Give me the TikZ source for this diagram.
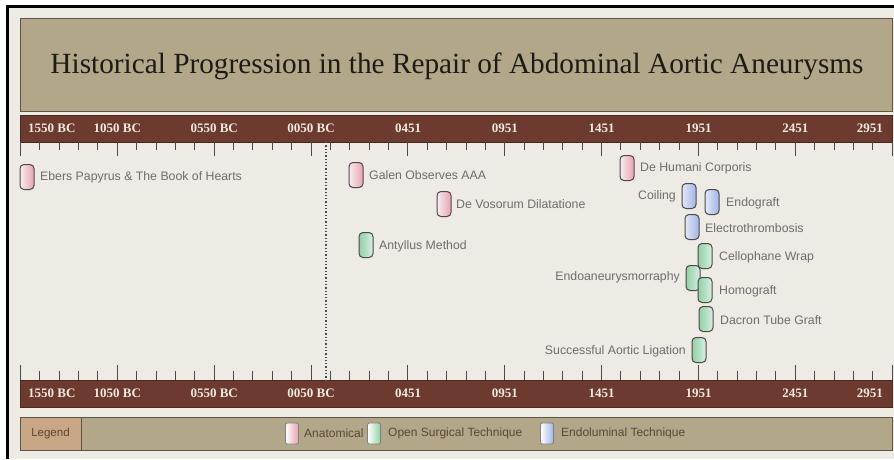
\documentclass[tikz,border=0pt]{standalone}
\usepackage{fontspec}
\usepackage{graphicx}
\newfontfamily\labfont{Liberation Sans}
\newfontfamily\serfont{Liberation Serif}
\definecolor{cream}{HTML}{EEEAE4}
\definecolor{paneltan}{HTML}{B3A78A}
\definecolor{tanedge}{HTML}{5E5546}
\definecolor{barbrown}{HTML}{6C3A2E}
\definecolor{baredge}{HTML}{4A2A20}
\definecolor{barlabel}{HTML}{F3E9DF}
\definecolor{legendtan}{HTML}{C9A686}
\definecolor{labgray}{HTML}{6E6E6E}
\definecolor{legtext}{HTML}{5A4636}
\definecolor{tickgray}{HTML}{4A4A4A}
\definecolor{titlecol}{HTML}{1E1A14}
\definecolor{anat}{HTML}{E6A2B0}
\definecolor{open}{HTML}{92D0A6}
\definecolor{endo}{HTML}{A2B4E6}
\definecolor{markedge}{HTML}{4A4A4A}
\begin{document}
\begin{tikzpicture}[x=1pt,y=-1pt,
  ev/.style={draw=markedge, line width=1pt, rounded corners=4pt, minimum width=14pt, minimum height=25pt, inner sep=0pt},
  anatm/.style={ev, left color=anat!20, right color=anat},
  openm/.style={ev, left color=open, right color=open!35},
  endom/.style={ev, left color=endo!30, right color=endo},
  lgm/.style={draw=markedge!70, line width=0.8pt, rounded corners=2pt, minimum width=13pt, minimum height=21pt, inner sep=0pt},
  lbl/.style={font=\labfont\fontsize{12.3}{14}\selectfont, text=labgray, inner sep=0pt},
  leglbl/.style={font=\labfont\fontsize{12}{14}\selectfont, text=legtext, inner sep=0pt, anchor=west},
  yearlbl/.style={font=\serfont\bfseries\fontsize{13}{15}\selectfont, text=barlabel, inner sep=0pt},
  panel/.style={fill=paneltan, draw=tanedge, line width=1pt},
  bar/.style={fill=barbrown, draw=baredge, line width=0.8pt},
  tickline/.style={draw=tickgray, line width=1pt}
]
\useasboundingbox (0,0) rectangle (894,459);
\fill[white] (0,0) rectangle (894,459);
\fill[cream] (9,8) rectangle (894,459);
\fill[black] (6,5) rectangle (894,8);
\fill[black] (6,5) rectangle (9,459);

% title panel
\draw[panel] (20,18) rectangle (892,111);
\node[text=titlecol, inner sep=0pt] (title) at (457,66)
  {\resizebox{813pt}{!}{\serfont\fontsize{28}{32}\selectfont Historical Progression in the Repair of Abdominal Aortic Aneurysms}};

% axis bars
\draw[bar] (20,115) rectangle (892,142);
\draw[bar] (20,380) rectangle (892,407);

% ticks
\foreach \k in {0,...,45}{
  \pgfmathsetmacro{\tx}{20.5+19.37*\k}
  \pgfmathtruncatemacro{\md}{mod(\k,5)}
  \ifnum\md=0
    \draw[tickline] (\tx,142) -- (\tx,156);
    \draw[tickline] (\tx,380) -- (\tx,365);
  \else
    \draw[tickline] (\tx,142) -- (\tx,150);
    \draw[tickline] (\tx,380) -- (\tx,371);
  \fi
}

% year labels
\foreach \yy/\ylab in {128.5/t,393.5/b}{
  \node[yearlbl, anchor=west] (y0\ylab) at (28,\yy) {1550 BC};
  \node[yearlbl] (y1\ylab) at (117.4,\yy) {1050 BC};
  \node[yearlbl] (y2\ylab) at (214.2,\yy) {0550 BC};
  \node[yearlbl] (y3\ylab) at (311.1,\yy) {0050 BC};
  \node[yearlbl] (y4\ylab) at (408,\yy) {0451};
  \node[yearlbl] (y5\ylab) at (504.8,\yy) {0951};
  \node[yearlbl] (y6\ylab) at (601.7,\yy) {1451};
  \node[yearlbl] (y7\ylab) at (698.5,\yy) {1951};
  \node[yearlbl] (y8\ylab) at (795.4,\yy) {2451};
  \node[yearlbl, anchor=east] (y9\ylab) at (883,\yy) {2951};
}

% dotted year-zero line
\coordinate (z1) at (326,142);
\coordinate (z2) at (326,380);
\draw[tickgray, dotted, line width=1.3pt] (z1) -- (z2);

% events
\node[anatm] (m-ebers) at (27,177) {};
\node[lbl, anchor=west] (t-ebers) at (40,177) {Ebers Papyrus \& The Book of Hearts};
\node[anatm] (m-galen) at (356,175) {};
\node[lbl, anchor=west] (t-galen) at (369,175) {Galen Observes AAA};
\node[anatm] (m-vos) at (444,204) {};
\node[lbl, anchor=west] (t-vos) at (456,204) {De Vosorum Dilatatione};
\node[openm] (m-ant) at (366,245) {};
\node[lbl, anchor=west] (t-ant) at (379,246) {Antyllus Method};
\node[anatm] (m-hum) at (627,168) {};
\node[lbl, anchor=west] (t-hum) at (640,168) {De Humani Corporis};
\node[endom] (m-coil) at (689,196) {};
\node[lbl, anchor=east] (t-coil) at (676,196) {Coiling};
\node[endom] (m-endog) at (712,202) {};
\node[lbl, anchor=west] (t-endog) at (726,203) {Endograft};
\node[endom] (m-elec) at (692,227) {};
\node[lbl, anchor=west] (t-elec) at (705,228) {Electrothrombosis};
\node[openm] (m-endoa) at (693,278) {};
\node[lbl, anchor=east] (t-endoa) at (680,277) {Endoaneurysmorraphy};
\node[openm] (m-cell) at (705,256) {};
\node[lbl, anchor=west] (t-cell) at (719,257) {Cellophane Wrap};
\node[openm] (m-homo) at (705,290) {};
\node[lbl, anchor=west] (t-homo) at (719,291) {Homograft};
\node[openm] (m-dac) at (706,319) {};
\node[lbl, anchor=west] (t-dac) at (720,320) {Dacron Tube Graft};
\node[openm] (m-succ) at (699,350) {};
\node[lbl, anchor=east] (t-succ) at (686,351) {Successful Aortic Ligation};

% legend
\draw[panel] (20,417) rectangle (892,450);
\draw[fill=legendtan, draw=tanedge, line width=1pt] (20,417) rectangle (81,450);
\node[font=\labfont\fontsize{11.5}{13}\selectfont, text=legtext, inner sep=0pt] (leg) at (50.5,433.5) {Legend};
\node[lgm, left color=white, right color=anat] (lg1) at (292,433.5) {};
\node[leglbl] (lt1) at (304,433.5) {Anatomical};
\node[lgm, left color=white, right color=open] (lg2) at (374,433.5) {};
\node[leglbl] (lt2) at (388,433.5) {Open Surgical Technique};
\node[lgm, left color=white, right color=endo] (lg3) at (547,433.5) {};
\node[leglbl] (lt3) at (561,433.5) {Endoluminal Technique};
\end{tikzpicture}
\end{document}
